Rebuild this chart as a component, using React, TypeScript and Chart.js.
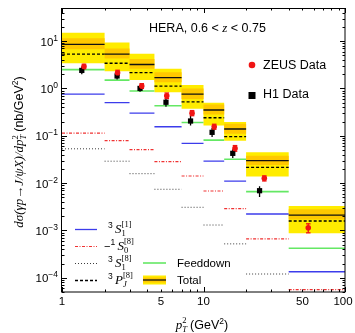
import React, { useEffect, useRef } from 'react';
import { Chart, registerables } from 'chart.js';
Chart.register(...registerables);

// ---------------- data ----------------
const binEdges = [1, 2, 3, 4.5, 7, 10, 14, 20, 40, 100];
const total = [8.5, 5.3, 3.2, 1.69, 0.76, 0.35, 0.139, 0.0297, 0.00211];
const totalBandHi = [11.5, 7.0, 4.2, 2.2, 1.0, 0.46, 0.18, 0.038, 0.0028];
const totalBandLo = [6.7, 4.3, 2.6, 1.35, 0.6, 0.28, 0.11, 0.024, 0.0017];
const scaleBandHi = [15, 9.3, 5.4, 2.6, 1.18, 0.5, 0.196, 0.0447, 0.00328];
const scaleBandLo = [3.4, 2.3, 1.5, 0.83, 0.37, 0.165, 0.0785, 0.0137, 0.00087];
const pj8 = [5.3, 3.4, 2.15, 1.12, 0.52, 0.24, 0.096, 0.0215, 0.00158];
const feeddown = [2.5, 1.5, 0.88, 0.43, 0.19, 0.081, 0.0318, 0.0066, 0.00042];
const s1Singlet = [0.76, 0.5, 0.3, 0.155, 0.069, 0.029, 0.011, 0.00222, 0.000134];
const s0Octet = [0.114, 0.0786, 0.051, 0.0283, 0.0141, 0.0068, 0.00288, 0.00066, 0.000056];
const s1Octet = [0.053, 0.029, 0.0158, 0.0074, 0.00308, 0.0013, 0.00052, 0.00012, 0.000024];

const h1X = [1.38, 2.45, 3.56, 5.43, 8.1, 11.5, 16.1, 24.9];
const h1Y = [2.4, 1.83, 1.0, 0.51, 0.205, 0.118, 0.0425, 0.0069];
const h1Lo = [2.0, 1.55, 0.85, 0.41, 0.165, 0.094, 0.034, 0.0051];
const h1Hi = [2.9, 2.15, 1.17, 0.64, 0.27, 0.145, 0.052, 0.0086];

const zeusX = [1.43, 2.47, 3.66, 5.5, 8.3, 11.9, 16.7, 26.9, 55];
const zeusY = [2.9, 2.15, 1.12, 0.7, 0.3, 0.155, 0.054, 0.0126, 0.00114];
const zeusLo = [2.6, 1.92, 1.0, 0.61, 0.265, 0.137, 0.047, 0.0111, 0.00089];
const zeusHi = [3.25, 2.42, 1.26, 0.8, 0.34, 0.175, 0.062, 0.0142, 0.00138];

const xTickValues = [1, 5, 10, 50, 100];
const xTickLabels = ['1', '5', '10', '50', '100'];
const yTickValues = [1e-4, 1e-3, 1e-2, 1e-1, 1, 10];
const yTickExponents = ['−4', '−3', '−2', '−1', '0', '1'];

const X_MIN = 1, X_MAX = 100, Y_MIN = 5e-5, Y_MAX = 50;

// ---------------- styles ----------------
const SANS = '"Liberation Sans", Arial, sans-serif';
const SERIF = '"Liberation Serif", "DejaVu Serif", serif';
const C_YELLOW = 'rgb(255,236,0)';
const C_ORANGE = 'rgb(255,200,0)';
const C_BLUE = 'rgb(60,60,235)';
const C_RED = 'rgb(240,50,50)';
const C_DOT = 'rgb(60,60,60)';
const C_GREEN = 'rgb(100,232,100)';
const C_ZEUS = 'rgb(240,20,20)';

// ---------------- helpers ----------------
function segs(vals: number[]) {
  const pts: any[] = [];
  vals.forEach((v, i) => {
    pts.push({ x: binEdges[i], y: v }, { x: binEdges[i + 1], y: v });
    if (i < vals.length - 1) pts.push({ x: binEdges[i + 1], y: null });
  });
  return pts;
}
function steps(vals: number[]) {
  const pts: any[] = vals.map((v, i) => ({ x: binEdges[i], y: v }));
  pts.push({ x: binEdges[binEdges.length - 1], y: vals[vals.length - 1] });
  return pts;
}
function errBars(xs: number[], lo: number[], hi: number[]) {
  const pts: any[] = [];
  xs.forEach((x, i) => {
    pts.push({ x, y: lo[i] }, { x, y: hi[i] });
    if (i < xs.length - 1) pts.push({ x, y: null });
  });
  return pts;
}
function pts(xs: number[], ys: number[]) {
  return xs.map((x, i) => ({ x, y: ys[i] }));
}

type Run = { t: string; font: string; dy?: number; noAdv?: boolean; color?: string };
function runsWidth(ctx: CanvasRenderingContext2D, runs: Run[]) {
  let w = 0;
  for (const r of runs) {
    ctx.font = r.font;
    if (!r.noAdv) w += ctx.measureText(r.t).width;
  }
  return w;
}
function drawRuns(ctx: CanvasRenderingContext2D, runs: Run[], x: number, y: number, align = 'left') {
  const w = runsWidth(ctx, runs);
  let cx = align === 'center' ? x - w / 2 : align === 'right' ? x - w : x;
  ctx.textAlign = 'left';
  ctx.textBaseline = 'alphabetic';
  for (const r of runs) {
    ctx.font = r.font;
    ctx.fillStyle = r.color || '#000';
    ctx.fillText(r.t, cx, y + (r.dy || 0));
    if (!r.noAdv) cx += ctx.measureText(r.t).width;
  }
}

const lineDs = (label: string, data: any[], color: string, width: number, dash: number[], order: number) => ({
  label, data, borderColor: color, borderWidth: width, borderDash: dash, pointRadius: 0,
  fill: false, order, spanGaps: false, borderCapStyle: 'butt',
});

const overlay = {
  id: 'overlay',
  afterDraw(chart: any) {
    const ctx: CanvasRenderingContext2D = chart.ctx;
    const { left, right, top, bottom } = chart.chartArea;
    const xs = chart.scales.x, ys = chart.scales.y;
    ctx.save();
    // frame
    ctx.strokeStyle = '#000';
    ctx.lineWidth = 1;
    ctx.strokeRect(left - 0.5, top + 0.5, right - left + 0.5, bottom - top - 0.5);
    // ticks
    ctx.beginPath();
    for (let d = 1; d <= 100; d *= 10) {
      for (let m = 1; m <= 9; m++) {
        const v = m * d;
        if (v > X_MAX) break;
        const px = Math.round(xs.getPixelForValue(v)) + 0.5;
        const len = m === 1 ? 5 : 2.5;
        ctx.moveTo(px, bottom); ctx.lineTo(px, bottom - len);
        ctx.moveTo(px, top); ctx.lineTo(px, top + len);
      }
    }
    for (let e = -5; e <= 1; e++) {
      for (let m = 1; m <= 9; m++) {
        const v = m * Math.pow(10, e);
        if (v < Y_MIN * 0.999 || v > Y_MAX * 1.001) continue;
        const py = Math.round(ys.getPixelForValue(v)) + 0.5;
        const len = m === 1 ? 5 : 2.5;
        ctx.moveTo(left, py); ctx.lineTo(left + len, py);
        ctx.moveTo(right, py); ctx.lineTo(right - len, py);
      }
    }
    ctx.stroke();
    // x tick labels
    ctx.fillStyle = '#000';
    ctx.font = `11.5px ${SANS}`;
    ctx.textAlign = 'center';
    ctx.textBaseline = 'alphabetic';
    xTickValues.forEach((v, i) => {
      let px = xs.getPixelForValue(v);
      if (i === xTickValues.length - 1) px -= 2;
      ctx.fillText(xTickLabels[i], px, bottom + 13);
    });
    // y tick labels
    yTickValues.forEach((v, i) => {
      const py = ys.getPixelForValue(v);
      drawRuns(ctx, [
        { t: '10', font: `11.5px ${SANS}`, dy: 4.5 },
        { t: yTickExponents[i], font: `8.5px ${SANS}`, dy: -0.5 },
      ], 58, py, 'right');
    });
    // x axis title
    drawRuns(ctx, [
      { t: 'p', font: `italic 13px ${SERIF}` },
      { t: 'T', font: `italic 8.5px ${SERIF}`, dy: 3, noAdv: true },
      { t: '2', font: `8.5px ${SERIF}`, dy: -5.5 },
      { t: ' (GeV', font: `12.5px ${SANS}` },
      { t: '2', font: `8.5px ${SANS}`, dy: -5 },
      { t: ')', font: `12.5px ${SANS}` },
    ], 202, 328.5, 'center');
    // y axis title
    ctx.save();
    ctx.translate(23, 152);
    ctx.rotate(-Math.PI / 2);
    drawRuns(ctx, [
      { t: 'dσ(γp→J/ψX)/dp', font: `italic 13px ${SERIF}` },
      { t: 'T', font: `italic 8.5px ${SERIF}`, dy: 3, noAdv: true },
      { t: '2', font: `8.5px ${SERIF}`, dy: -5.5 },
      { t: ' (nb/GeV', font: `12.5px ${SANS}` },
      { t: '2', font: `8.5px ${SANS}`, dy: -5 },
      { t: ')', font: `12.5px ${SANS}` },
    ], 0, 0, 'center');
    ctx.restore();
    // title
    drawRuns(ctx, [
      { t: 'HERA, 0.6 < ', font: `12.5px ${SANS}` },
      { t: 'z', font: `italic 13px ${SERIF}` },
      { t: ' < 0.75', font: `12.5px ${SANS}` },
    ], 149, 31.5);
    // data legend
    ctx.fillStyle = C_ZEUS;
    ctx.beginPath(); ctx.arc(252, 65, 3.3, 0, Math.PI * 2); ctx.fill();
    ctx.fillStyle = '#000';
    ctx.fillRect(248.5, 92, 7, 7);
    drawRuns(ctx, [{ t: 'ZEUS Data', font: `12.5px ${SANS}` }], 263, 68.5);
    drawRuns(ctx, [{ t: 'H1 Data', font: `12.5px ${SANS}` }], 263, 98);
    // channel legend
    const rowY = [229, 246, 263, 280];
    const styles = [
      { c: C_BLUE, w: 1.3, d: [] as number[] },
      { c: C_RED, w: 1.2, d: [3, 1.5, 1, 1.5] },
      { c: C_DOT, w: 1, d: [1, 2] },
      { c: '#000', w: 1.3, d: [3, 2] },
    ];
    styles.forEach((s, i) => {
      ctx.strokeStyle = s.c; ctx.lineWidth = s.w; ctx.setLineDash(s.d);
      ctx.beginPath(); ctx.moveTo(75, rowY[i] + 0.5); ctx.lineTo(97, rowY[i] + 0.5); ctx.stroke();
    });
    ctx.setLineDash([]);
    const sup = `8.5px ${SANS}`;
    const it = `italic 13px ${SERIF}`;
    const small = `8.5px ${SERIF}`;
    const labels: Run[][] = [
      [{ t: '3 ', font: sup, dy: -5 }, { t: 'S', font: it }, { t: '1', font: small, dy: 3, noAdv: true }, { t: '[1]', font: small, dy: -6 }],
      [{ t: '−', font: `11px ${SANS}` }, { t: '1 ', font: sup, dy: -5 }, { t: 'S', font: it }, { t: '0', font: small, dy: 3, noAdv: true }, { t: '[8]', font: small, dy: -6 }],
      [{ t: '3 ', font: sup, dy: -5 }, { t: 'S', font: it }, { t: '1', font: small, dy: 3, noAdv: true }, { t: '[8]', font: small, dy: -6 }],
      [{ t: '3 ', font: sup, dy: -5 }, { t: 'P', font: it }, { t: 'J', font: `italic 8.5px ${SERIF}`, dy: 3, noAdv: true }, { t: '[8]', font: small, dy: -6 }],
    ];
    labels.forEach((r, i) => drawRuns(ctx, r, i === 1 ? 104 : 108, rowY[i] + 3.5));
    // feeddown / total
    ctx.strokeStyle = C_GREEN; ctx.lineWidth = 1.6;
    ctx.beginPath(); ctx.moveTo(143, 263); ctx.lineTo(166, 263); ctx.stroke();
    ctx.fillStyle = C_YELLOW; ctx.fillRect(143, 275.5, 23, 9);
    ctx.fillStyle = C_ORANGE; ctx.fillRect(143, 277.5, 23, 5);
    ctx.strokeStyle = '#111'; ctx.lineWidth = 1.3;
    ctx.beginPath(); ctx.moveTo(143, 280); ctx.lineTo(166, 280); ctx.stroke();
    drawRuns(ctx, [{ t: 'Feeddown', font: `11.5px ${SANS}` }], 177, 266.5);
    drawRuns(ctx, [{ t: 'Total', font: `11.5px ${SANS}` }], 177, 284);
    ctx.restore();
  },
};

export default function App() {
  const ref = useRef<HTMLCanvasElement>(null);
  useEffect(() => {
    document.body.style.margin = '0';
    const datasets: any[] = [
      // markers
      { label: 'ZEUS', data: pts(zeusX, zeusY), showLine: false, pointStyle: 'circle', pointRadius: 2.8,
        pointBackgroundColor: C_ZEUS, pointBorderColor: C_ZEUS, pointBorderWidth: 0, order: 0 },
      { label: 'H1', data: pts(h1X, h1Y), showLine: false, pointStyle: 'rect', pointRadius: 3.7,
        pointBackgroundColor: '#000', pointBorderColor: '#000', pointBorderWidth: 0, order: 0 },
      { label: 'ZEUS err', data: errBars(zeusX, zeusLo, zeusHi), borderColor: C_ZEUS, borderWidth: 1.3,
        pointStyle: 'line', pointRadius: 2.3, pointBorderColor: C_ZEUS, pointBorderWidth: 1.3, fill: false, order: 1 },
      { label: 'H1 err', data: errBars(h1X, h1Lo, h1Hi), borderColor: '#000', borderWidth: 1.3,
        pointRadius: 0, fill: false, order: 1 },
      // channels
      lineDs('total', segs(total), '#111', 1.3, [], 2),
      lineDs('pj8', segs(pj8), '#000', 1.3, [3, 2], 3),
      lineDs('feeddown', segs(feeddown), C_GREEN, 1.6, [], 4),
      lineDs('s1singlet', segs(s1Singlet), C_BLUE, 1.3, [], 5),
      lineDs('s0octet', segs(s0Octet), C_RED, 1.2, [3, 1.5, 1, 1.5], 6),
      lineDs('s1octet', segs(s1Octet), C_DOT, 1, [1, 2], 7),
      // bands
      { label: 'inner hi', data: steps(totalBandHi), stepped: 'before', borderWidth: 0, borderColor: 'rgba(0,0,0,0)',
        pointRadius: 0, backgroundColor: C_ORANGE, fill: '+1', order: 8 },
      { label: 'inner lo', data: steps(totalBandLo), stepped: 'before', borderWidth: 0, borderColor: 'rgba(0,0,0,0)',
        pointRadius: 0, fill: false, order: 8 },
      { label: 'outer hi', data: steps(scaleBandHi), stepped: 'before', borderWidth: 0, borderColor: 'rgba(0,0,0,0)',
        pointRadius: 0, backgroundColor: C_YELLOW, fill: '+1', order: 9 },
      { label: 'outer lo', data: steps(scaleBandLo), stepped: 'before', borderWidth: 0, borderColor: 'rgba(0,0,0,0)',
        pointRadius: 0, fill: false, order: 9 },
    ];
    const chart = new Chart(ref.current!, {
      type: 'line',
      data: { datasets },
      options: {
        animation: false,
        responsive: false,
        devicePixelRatio: 1,
        layout: { padding: { left: 62, right: 10, top: 8, bottom: 41 } },
        plugins: { legend: { display: false }, tooltip: { enabled: false } },
        events: [],
        scales: {
          x: { type: 'logarithmic', min: X_MIN, max: X_MAX, display: false },
          y: { type: 'logarithmic', min: Y_MIN, max: Y_MAX, display: false },
        },
      },
      plugins: [overlay],
    } as any);
    return () => chart.destroy();
  }, []);
  return (
    <div style={{ position: 'relative', width: 355, height: 333 }}>
      <canvas ref={ref} width={355} height={333} style={{ display: 'block', width: 355, height: 333 }} />
    </div>
  );
}
